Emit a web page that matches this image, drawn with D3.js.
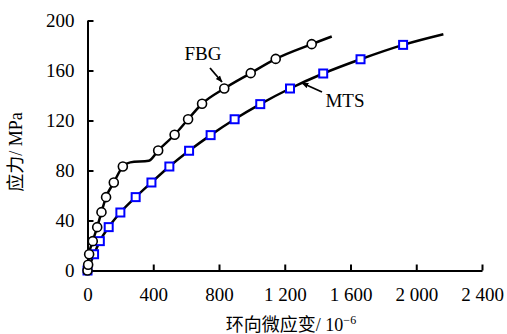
<!DOCTYPE html>
<html><head><meta charset="utf-8">
<script src="https://cdn.jsdelivr.net/npm/d3@7"></script>
<style>
html,body{margin:0;padding:0;background:#fff;}
svg{display:block;}
text{font-family:"Liberation Serif","Times New Roman","Noto Sans CJK SC",serif;fill:#000;}
</style></head>
<body>
<svg id="c" width="507" height="334"></svg>
<script>
// ---- data ----
const xTicks = [0, 400, 800, 1200, 1600, 2000, 2400];
const xTickLabels = ["0", "400", "800", "1 200", "1 600", "2 000", "2 400"];
const yTicks = [0, 40, 80, 120, 160, 200];
const yTickLabels = ["0", "40", "80", "120", "160", "200"];

// FBG curve (line vertices) and markers
const fbgLineStrain = [0, 4, 10, 32, 59, 85, 113, 160, 215, 260, 373, 430, 530, 612, 697, 832, 993, 1145, 1364, 1486];
const fbgLineStress = [0, 4.6, 13, 23.5, 34.7, 46.7, 58.7, 70.4, 83.2, 86.5, 87.8, 96, 108.6, 121, 133.4, 145.6, 157.9, 169.3, 181.1, 187.2];
const fbgMarkStrain = [0, 4, 10, 32, 59, 85, 113, 160, 215, 430, 530, 612, 697, 832, 993, 1145, 1364];
const fbgMarkStress = [0, 4.6, 13, 23.5, 34.7, 46.7, 58.7, 70.4, 83.2, 96, 108.6, 121, 133.4, 145.6, 157.9, 169.3, 181.1];

// MTS curve and markers
const mtsLineStrain = [0, 40, 75, 129, 200, 293, 389, 498, 618, 749, 895, 1051, 1232, 1434, 1661, 1920, 2165];
const mtsLineStress = [0, 13, 23.5, 34.7, 46.4, 58.7, 70.4, 83.2, 95.8, 108.3, 121, 133.1, 145.6, 157.6, 169, 180.5, 189];
const mtsMarkStrain = [0, 40, 75, 129, 200, 293, 389, 498, 618, 749, 895, 1051, 1232, 1434, 1661, 1920];
const mtsMarkStress = [0, 13, 23.5, 34.7, 46.4, 58.7, 70.4, 83.2, 95.8, 108.3, 121, 133.1, 145.6, 157.6, 169, 180.5];

// ---- chart ----
const svg = d3.select("#c");
const x = d3.scaleLinear().domain([0, 2400]).range([87.5, 482]);
const y = d3.scaleLinear().domain([0, 200]).range([270.5, 20.5]);

// axes
const xAxis = svg.append("g").attr("transform", `translate(0,${y(0)})`)
  .call(d3.axisBottom(x).tickValues(xTicks).tickSizeInner(-6).tickSizeOuter(0).tickFormat((d,i)=>xTickLabels[i]).tickPadding(12));
const yAxis = svg.append("g").attr("transform", `translate(${x(0)},0)`)
  .call(d3.axisLeft(y).tickValues(yTicks).tickSizeInner(-6).tickSizeOuter(0).tickFormat((d,i)=>yTickLabels[i]).tickPadding(13));
[xAxis, yAxis].forEach(g => {
  g.select(".domain").attr("stroke", "#000").attr("stroke-width", 2);
  g.selectAll(".tick line").attr("stroke", "#000").attr("stroke-width", 2);
  g.selectAll(".tick text").style("font-size", "19px").attr("fill", "#000");
});
xAxis.selectAll(".tick text").attr("dy", "0.95em");

// lines
const line = d3.line().x(d => x(d[0])).y(d => y(d[1])).curve(d3.curveMonotoneX);
const fbgLine = fbgLineStrain.map((v,i)=>[v, fbgLineStress[i]]);
const mtsLine = mtsLineStrain.map((v,i)=>[v, mtsLineStress[i]]);
svg.append("path").datum(mtsLine).attr("d", line).attr("fill","none").attr("stroke","#000").attr("stroke-width",2.5);
svg.append("path").datum(fbgLine).attr("d", line).attr("fill","none").attr("stroke","#000").attr("stroke-width",2.5);

// markers
const mts = mtsMarkStrain.map((v,i)=>[v, mtsMarkStress[i]]);
const fbg = fbgMarkStrain.map((v,i)=>[v, fbgMarkStress[i]]);
svg.append("g").selectAll("rect").data(mts).join("rect")
  .attr("x", d => x(d[0]) - 4).attr("y", d => y(d[1]) - 4)
  .attr("width", 8).attr("height", 8)
  .attr("fill", "#fff").attr("stroke", "#0000ff").attr("stroke-width", 2);
svg.append("g").selectAll("circle").data(fbg).join("circle")
  .attr("cx", d => x(d[0])).attr("cy", d => y(d[1])).attr("r", 4.5)
  .attr("fill", "#fff").attr("stroke", "#000").attr("stroke-width", 1.6);

// arrow marker
svg.append("defs").append("marker").attr("id","ah").attr("viewBox","0 0 10 10")
  .attr("refX",9).attr("refY",5).attr("markerWidth",7).attr("markerHeight",7).attr("orient","auto")
  .attr("markerUnits","userSpaceOnUse")
  .append("path").attr("d","M0,1 L10,5 L0,9 Z").attr("fill","#000");

// annotations
svg.append("text").attr("x", 203).attr("y", 60).attr("text-anchor","middle").style("font-size","19px").text("FBG");
svg.append("line").attr("x1",210).attr("y1",68).attr("x2",222).attr("y2",82)
  .attr("stroke","#000").attr("stroke-width",1.8).attr("marker-end","url(#ah)");
svg.append("text").attr("x", 345).attr("y", 107).attr("text-anchor","middle").style("font-size","19px").text("MTS");
svg.append("line").attr("x1",322).attr("y1",92).attr("x2",302).attr("y2",83)
  .attr("stroke","#000").attr("stroke-width",1.8).attr("marker-end","url(#ah)");

// axis titles
const yt = svg.append("text").attr("transform","translate(22,152) rotate(-90)").attr("text-anchor","middle").style("font-size","18px");
yt.append("tspan").text("应力/ MPa");

const xt = svg.append("text").attr("x", 291).attr("y", 331).attr("text-anchor","middle").style("font-size","18px");
xt.append("tspan").text("环向微应变/ 10");
xt.append("tspan").attr("dy","-7").style("font-size","12px").text("−6");
</script>
</body></html>
